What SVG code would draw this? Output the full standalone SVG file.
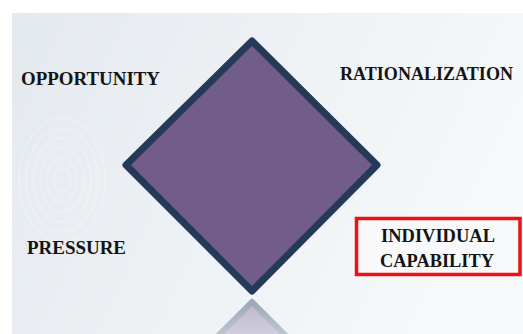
<svg xmlns="http://www.w3.org/2000/svg" width="523" height="334" viewBox="0 0 523 334">
  <style>
    .lbl { font-family: "Liberation Serif", "Times New Roman", serif; font-weight: bold; font-size: 18.5px; fill: #141414; }
    .print { fill: none; stroke: #ffffff; stroke-width: 1.2; opacity: 0.3; }
  </style>
  <defs>
    <linearGradient id="bg" x1="0" y1="0" x2="1" y2="0.3">
      <stop offset="0" stop-color="#e4e9ee"/>
      <stop offset="0.55" stop-color="#eef2f5"/>
      <stop offset="1" stop-color="#f6f8fa"/>
    </linearGradient>
    <linearGradient id="fadeGrad" x1="0" y1="0" x2="0" y2="1">
      <stop offset="0" stop-color="#ffffff" stop-opacity="0.55"/>
      <stop offset="1" stop-color="#ffffff" stop-opacity="0.3"/>
    </linearGradient>
    <mask id="fadeMask" maskUnits="userSpaceOnUse" x="200" y="295" width="110" height="40">
      <rect x="200" y="295" width="110" height="40" fill="url(#fadeGrad)"/>
    </mask>
  </defs>

  <!-- page and backdrop -->
  <rect width="523" height="334" fill="#ffffff"/>
  <rect x="12" y="13" width="511" height="321" fill="url(#bg)"/>

  <!-- faint fingerprint texture on the left -->
  <g class="print">
    <ellipse cx="62" cy="180" rx="8" ry="12"/>
    <ellipse cx="62" cy="180" rx="15" ry="22"/>
    <ellipse cx="62" cy="180" rx="22" ry="32"/>
    <ellipse cx="62" cy="180" rx="29" ry="42"/>
    <ellipse cx="62" cy="180" rx="36" ry="52"/>
    <ellipse cx="62" cy="180" rx="43" ry="62"/>
  </g>

  <!-- reflection under the diamond -->
  <g id="reflection" mask="url(#fadeMask)">
    <path d="M252,302 L290,340 L214,340 Z" fill="#8a7aa2" stroke="#4a6078" stroke-width="6" stroke-linejoin="round"/>
  </g>

  <!-- central diamond -->
  <g id="diamond">
    <path d="M252,41 L377,165 L252,291 L126,165 Z" fill="#725c8a" stroke="#243a58" stroke-width="7" stroke-linejoin="round"/>
  </g>

  <g id="opportunity">
    <text class="lbl" x="21" y="85" textLength="139" lengthAdjust="spacingAndGlyphs">OPPORTUNITY</text>
  </g>

  <g id="rationalization">
    <text class="lbl" x="340" y="80" textLength="173" lengthAdjust="spacingAndGlyphs">RATIONALIZATION</text>
  </g>

  <g id="pressure">
    <text class="lbl" x="27" y="254" textLength="99" lengthAdjust="spacingAndGlyphs">PRESSURE</text>
  </g>

  <g id="individual-capability">
    <rect x="356.5" y="218.5" width="163.5" height="56" fill="#f7f9fb" stroke="#ee1111" stroke-width="3.5"/>
    <text class="lbl" x="381" y="242" textLength="114" lengthAdjust="spacingAndGlyphs">INDIVIDUAL</text>
    <text class="lbl" x="380" y="267" textLength="114" lengthAdjust="spacingAndGlyphs">CAPABILITY</text>
  </g>

  <g id="connectors"/>
</svg>
